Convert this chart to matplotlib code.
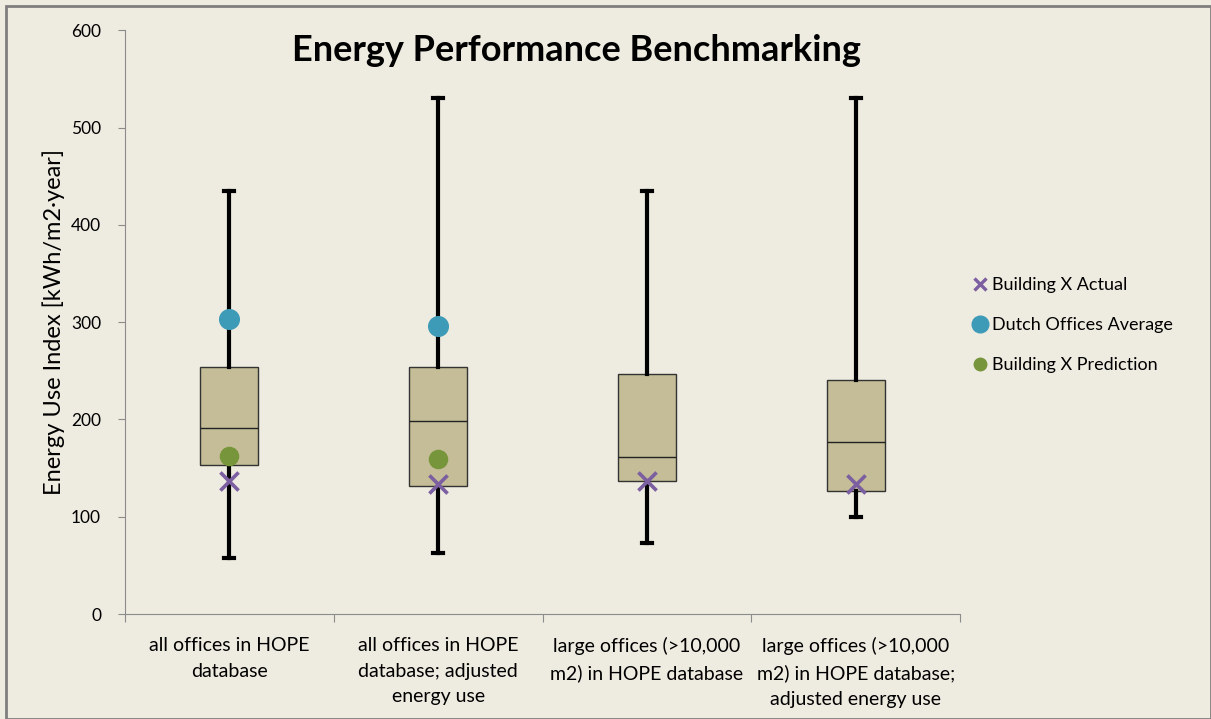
"""Energy performance benchmarking box plot (Excel-style)."""
import matplotlib
matplotlib.use("Agg")
import matplotlib.pyplot as plt
from matplotlib.lines import Line2D
from matplotlib.patches import Rectangle

plt.rcParams.update({
    "font.family": ["Lato", "DejaVu Sans"],
    "axes.unicode_minus": False,
})

categories = [
    "all offices in HOPE\ndatabase",
    "all offices in HOPE\ndatabase; adjusted\nenergy use",
    "large offices (>10,000\nm2) in HOPE database",
    "large offices (>10,000\nm2) in HOPE database;\nadjusted energy use",
]
whisker_low = [58, 63, 73, 100]
q1 = [153, 132, 137, 126]
median = [191, 198, 161, 177]
q3 = [254, 254, 247, 241]
whisker_high = [435, 530, 435, 530]

actual = [137, 134, 137, 134]          # Building X Actual
dutch_avg = [303, 296, None, None]     # Dutch Offices Average
prediction = [162, 159, None, None]    # Building X Prediction

BG = "#EEEBE0"
BOX = "#C4BD97"
PURPLE = "#7B5FA0"
BLUE = "#3D9BB8"
GREEN = "#77953A"
GREY = "#8C8C8C"

fig = plt.figure(figsize=(12.11, 7.19), dpi=100, facecolor=BG)
ax = fig.add_axes([0.103, 0.146, 0.690, 0.812], facecolor=BG)

pos = list(range(1, len(categories) + 1))
stats = [dict(whislo=lo, q1=a, med=m, q3=b, whishi=hi, fliers=[])
         for lo, a, m, b, hi in zip(whisker_low, q1, median, q3, whisker_high)]
ax.bxp(stats, positions=pos, widths=0.28, patch_artist=True,
       showfliers=False, capwidths=0.05,
       boxprops=dict(facecolor=BOX, edgecolor="#333333", linewidth=1),
       medianprops=dict(color="#222222", linewidth=1),
       whiskerprops=dict(color="black", linewidth=3),
       capprops=dict(color="black", linewidth=3), zorder=2)

ax.scatter(pos, actual, marker="x", s=170, linewidths=2.6, color=PURPLE,
           zorder=5)
dp = [(p, v) for p, v in zip(pos, dutch_avg) if v is not None]
ax.scatter([p for p, _ in dp], [v for _, v in dp], s=200, color=BLUE,
           zorder=5)
gp = [(p, v) for p, v in zip(pos, prediction) if v is not None]
ax.scatter([p for p, _ in gp], [v for _, v in gp], s=170, color=GREEN,
           zorder=5)

ax.set_xlim(0.5, len(categories) + 0.5)
ax.set_ylim(0, 600)
ax.set_yticks(range(0, 601, 100))
ax.tick_params(axis="y", direction="out", length=5, color=GREY,
               labelsize=12.5, pad=12)
ax.set_xticks([p - 0.5 for p in pos] + [len(categories) + 0.5])
ax.set_xticklabels([])
ax.tick_params(axis="x", direction="out", length=6, color=GREY)
for p, lab in zip(pos, categories):
    ax.text(p, -24, lab, ha="center", va="top", fontsize=14,
            linespacing=1.6, transform=ax.transData)
for side in ("top", "right"):
    ax.spines[side].set_visible(False)
for side in ("left", "bottom"):
    ax.spines[side].set_color(GREY)

ax.set_ylabel("Energy Use Index [kWh/m2\u00b7year]", fontsize=17, labelpad=4)
ax.text(0.54, 0.966, "Energy Performance Benchmarking", transform=ax.transAxes,
        ha="center", va="center", fontsize=26, fontweight="bold")

handles = [
    Line2D([], [], marker="x", ls="", color=PURPLE, markersize=9, mew=2.4),
    Line2D([], [], marker="o", ls="", color=BLUE, markersize=12),
    Line2D([], [], marker="o", ls="", color=GREEN, markersize=9),
]
fig.legend(handles, ["Building X Actual", "Dutch Offices Average",
                     "Building X Prediction"],
           loc="center left", bbox_to_anchor=(0.787, 0.548), frameon=False,
           fontsize=13, handletextpad=0.05, labelspacing=1.32,
           handlelength=1.2)

fig.patches.append(Rectangle((0.005, 0.0), 0.995, 0.992, transform=fig.transFigure,
                             fill=False, edgecolor="#7F7F7F", linewidth=2))

fig.savefig("out.png", dpi=100, facecolor=BG)
